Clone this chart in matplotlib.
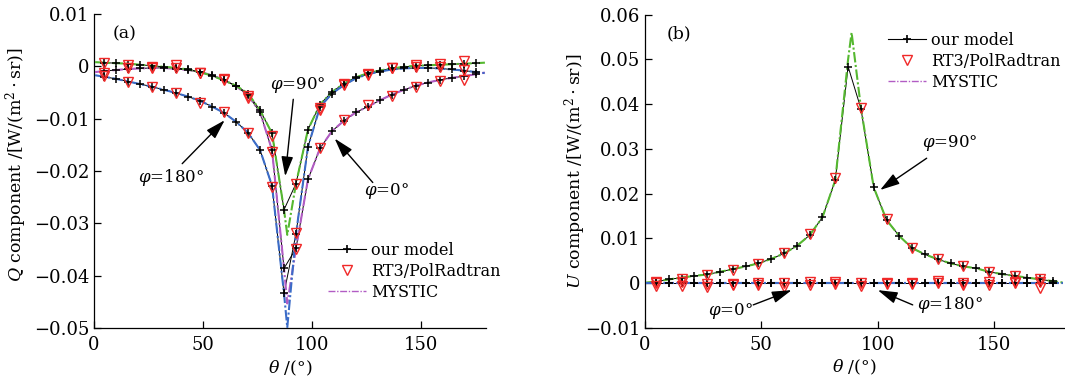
import matplotlib
matplotlib.use("Agg")
import matplotlib.pyplot as plt
from matplotlib.lines import Line2D
from matplotlib.ticker import FuncFormatter

plt.rcParams["font.family"] = ["DejaVu Serif"]
plt.rcParams["mathtext.fontset"] = "dejavuserif"

# viewing zenith grid of our model and RT3 (every other point)
theta = [4.75, 10.25, 15.75, 21.25, 26.75, 32.25, 37.75, 43.25, 48.75, 54.25,
         59.75, 65.25, 70.75, 76.25, 81.75, 87.25, 92.75, 98.25, 103.75, 109.25,
         114.75, 120.25, 125.75, 131.25, 136.75, 142.25, 147.75, 153.25, 158.75,
         164.25, 169.75, 175.25]
theta_rt3 = [4.75, 15.75, 26.75, 37.75, 48.75, 59.75, 70.75, 81.75, 92.75,
             103.75, 114.75, 125.75, 136.75, 147.75, 158.75, 169.75]
theta_mc = [0.5, 4.75, 10.25, 15.75, 21.25, 26.75, 32.25, 37.75, 43.25, 48.75,
            54.25, 59.75, 65.25, 70.75, 76.25, 81.75, 87.25, 88.75, 92.75, 98.25,
            103.75, 109.25, 114.75, 120.25, 125.75, 131.25, 136.75, 142.25,
            147.75, 153.25, 158.75, 164.25, 169.75, 175.25, 179.5]

# ---- Q component ----
q_model_0 = [-0.0009, -0.0007, -0.0005, -0.0004, -0.0003, -0.0003, -0.0005, -0.0007,
             -0.0011, -0.0017, -0.0026, -0.0038, -0.0055, -0.0088, -0.0160, -0.0386,
             -0.0348, -0.0216, -0.0157, -0.0124, -0.0104, -0.0088, -0.0077, -0.0065,
             -0.0054, -0.0045, -0.0037, -0.0031, -0.0026, -0.0022, -0.0019, -0.0015]
q_model_90 = [0.0007, 0.0006, 0.0005, 0.0003, 0.0001, -0.0001, -0.0003, -0.0006,
              -0.0011, -0.0018, -0.0027, -0.0037, -0.0052, -0.0084, -0.0128, -0.0274,
              -0.0224, -0.0121, -0.0073, -0.0049, -0.0033, -0.0021, -0.0013, -0.0008,
              -0.0004, -0.0001, 0.0001, 0.0002, 0.0003, 0.0004, 0.0005, 0.0006]
q_model_180 = [-0.0020, -0.0024, -0.0029, -0.0034, -0.0039, -0.0045, -0.0051, -0.0058,
               -0.0066, -0.0077, -0.0089, -0.0106, -0.0127, -0.0160, -0.0228, -0.0434,
               -0.0320, -0.0154, -0.0078, -0.0052, -0.0036, -0.0023, -0.0015, -0.0010,
               -0.0006, -0.0004, -0.0003, -0.0003, -0.0004, -0.0006, -0.0008, -0.0011]

q_rt3_0 = [-0.0012, -0.0003, -0.0004, -0.0004, -0.0013, -0.0027, -0.0057, -0.0163,
           -0.0349, -0.0157, -0.0102, -0.0074, -0.0056, -0.0040, -0.0028, -0.0027]
q_rt3_90 = [0.0006, 0.0002, -0.0002, 0.0003, -0.0013, -0.0025, -0.0061, -0.0134,
            -0.0224, -0.0083, -0.0036, -0.0015, -0.0003, 0.0002, 0.0004, 0.0010]
q_rt3_180 = [-0.0018, -0.0029, -0.0039, -0.0050, -0.0070, -0.0087, -0.0127, -0.0230,
             -0.0319, -0.0080, -0.0033, -0.0017, -0.0004, -0.0001, -0.0002, -0.0007]

q_mc_0 = [-0.0011, -0.0009, -0.0007, -0.0005, -0.0004, -0.0003, -0.0003, -0.0005,
          -0.0007, -0.0011, -0.0017, -0.0026, -0.0038, -0.0055, -0.0088, -0.0160,
          -0.0386, -0.0453, -0.0348, -0.0216, -0.0157, -0.0124, -0.0104, -0.0088,
          -0.0077, -0.0065, -0.0054, -0.0045, -0.0037, -0.0031, -0.0026, -0.0022,
          -0.0019, -0.0015, -0.0012]
q_mc_90 = [0.0008, 0.0007, 0.0006, 0.0005, 0.0003, 0.0001, -0.0001, -0.0003,
           -0.0006, -0.0011, -0.0018, -0.0027, -0.0037, -0.0052, -0.0084, -0.0128,
           -0.0274, -0.0322, -0.0224, -0.0121, -0.0073, -0.0049, -0.0033, -0.0021,
           -0.0013, -0.0008, -0.0004, -0.0001, 0.0001, 0.0002, 0.0003, 0.0004,
           0.0005, 0.0006, 0.0007]
q_mc_180 = [-0.0017, -0.0020, -0.0024, -0.0029, -0.0034, -0.0039, -0.0045, -0.0051,
            -0.0058, -0.0066, -0.0077, -0.0089, -0.0106, -0.0127, -0.0160, -0.0228,
            -0.0434, -0.0499, -0.0320, -0.0154, -0.0078, -0.0052, -0.0036, -0.0023,
            -0.0015, -0.0010, -0.0006, -0.0004, -0.0003, -0.0003, -0.0004, -0.0006,
            -0.0008, -0.0011, -0.0013]

# ---- U component ----
u_model_0 = [0.0000, 0.0000, 0.0000, 0.0000, 0.0000, 0.0000, 0.0000, 0.0000,
             0.0000, 0.0000, 0.0000, 0.0000, 0.0000, 0.0000, 0.0000, 0.0000,
             0.0000, 0.0000, 0.0000, 0.0000, 0.0000, 0.0000, 0.0000, 0.0000,
             0.0000, 0.0000, 0.0000, 0.0000, 0.0000, 0.0000, 0.0000, 0.0000]
u_model_90 = [0.0003, 0.0008, 0.0012, 0.0016, 0.0019, 0.0025, 0.0031, 0.0037,
              0.0044, 0.0054, 0.0066, 0.0083, 0.0107, 0.0147, 0.0230, 0.0484,
              0.0390, 0.0214, 0.0141, 0.0105, 0.0078, 0.0064, 0.0053, 0.0044,
              0.0037, 0.0033, 0.0025, 0.0020, 0.0016, 0.0012, 0.0008, 0.0004]
u_model_180 = [0.0000, 0.0000, 0.0000, 0.0000, 0.0000, 0.0000, 0.0000, 0.0000,
               0.0000, 0.0000, 0.0000, 0.0000, 0.0000, 0.0000, 0.0000, 0.0000,
               0.0000, 0.0000, 0.0000, 0.0000, 0.0000, 0.0000, 0.0000, 0.0000,
               0.0000, 0.0000, 0.0000, 0.0000, 0.0000, 0.0000, 0.0000, 0.0000]

u_rt3_0 = [-0.0007, 0.0002, -0.0003, -0.0005, 0.0000, -0.0008, 0.0003, -0.0002,
           0.0000, -0.0003, 0.0001, 0.0000, -0.0004, 0.0002, 0.0000, -0.0012]
u_rt3_90 = [0.0002, 0.0010, 0.0018, 0.0029, 0.0043, 0.0068, 0.0110, 0.0235,
            0.0392, 0.0143, 0.0078, 0.0053, 0.0037, 0.0024, 0.0015, 0.0008]
u_rt3_180 = [0.0000, -0.0006, -0.0008, -0.0002, -0.0004, 0.0001, -0.0005, 0.0002,
             -0.0006, 0.0000, -0.0003, 0.0004, 0.0000, -0.0005, 0.0002, 0.0003]

u_mc_0 = [0.0000, 0.0000, 0.0000, 0.0000, 0.0000, 0.0000, 0.0000, 0.0000,
          0.0000, 0.0000, 0.0000, 0.0000, 0.0000, 0.0000, 0.0000, 0.0000,
          0.0000, 0.0000, 0.0000, 0.0000, 0.0000, 0.0000, 0.0000, 0.0000,
          0.0000, 0.0000, 0.0000, 0.0000, 0.0000, 0.0000, 0.0000, 0.0000,
          0.0000, 0.0000, 0.0000]
u_mc_90 = [0.0001, 0.0003, 0.0008, 0.0012, 0.0016, 0.0019, 0.0025, 0.0031,
           0.0037, 0.0044, 0.0054, 0.0066, 0.0083, 0.0107, 0.0147, 0.0230,
           0.0500, 0.0560, 0.0392, 0.0214, 0.0141, 0.0105, 0.0078, 0.0064,
           0.0053, 0.0044, 0.0037, 0.0033, 0.0025, 0.0020, 0.0016, 0.0012,
           0.0008, 0.0004, 0.0001]
u_mc_180 = u_mc_0

C_PHI = {0: "#b25cc4", 90: "#55b830", 180: "#3b6cc8"}
RED = "#f02828"
MC_LS = (0, (5, 1.2, 1, 1.2))


def draw_panel(ax, model, rt3, mc):
    for phi in (0, 90, 180):
        ax.plot(theta, model[phi], "-", color="k", lw=0.7, zorder=2)
    for phi in (0, 90, 180):
        ax.plot(theta_mc, mc[phi], linestyle=MC_LS, color=C_PHI[phi], lw=1.5, zorder=3)
    for phi in (0, 90, 180):
        ax.plot(theta, model[phi], "+", color="k", ms=5.5, mew=1.1, zorder=4)
        ax.plot(theta_rt3, rt3[phi], "v", mfc="none", mec=RED, ms=7.5, mew=1.0, zorder=5)


def style_axes(ax, ylim, yticks):
    ax.set_xlim(0, 180)
    ax.set_ylim(*ylim)
    ax.set_xticks([0, 50, 100, 150])
    ax.set_yticks(yticks)
    ax.yaxis.set_major_formatter(FuncFormatter(
        lambda v, p: "0" if abs(v) < 1e-12 else f"{v:g}".replace("-", "\u2212")))
    ax.spines["top"].set_visible(False)
    ax.spines["right"].set_visible(False)
    ax.tick_params(direction="in", length=5, width=0.9, labelsize=13)
    ax.tick_params(axis="x", pad=6)
    for s in ("left", "bottom"):
        ax.spines[s].set_linewidth(0.9)
    ax.set_xlabel(r"$\theta$ /(°)", fontsize=12.5, labelpad=3)


def arrow(ax, tail, tip):
    ax.annotate("", xy=tip, xytext=tail,
                arrowprops=dict(arrowstyle="-|>,head_length=1.0,head_width=0.3",
                                color="k", lw=1.0, mutation_scale=12,
                                shrinkA=0, shrinkB=0), zorder=6)


def legend(ax, anchor):
    handles = [
        Line2D([], [], color="k", lw=0.8, marker="+", ms=6, mew=1.2),
        Line2D([], [], ls="none", marker="v", mfc="none", mec=RED, ms=7.5),
        Line2D([], [], color=C_PHI[0], lw=1.0, linestyle=MC_LS),
    ]
    ax.legend(handles, ["our model", "RT3/PolRadtran", "MYSTIC"], loc="upper left",
              bbox_to_anchor=anchor, frameon=False, fontsize=11.5, borderpad=0,
              borderaxespad=0, handlelength=2.4, handletextpad=0.3, labelspacing=0.25)


fig = plt.figure(figsize=(10.65, 3.83), dpi=100)
ax1 = fig.add_axes([94 / 1065, 1 - 328 / 383, 392 / 1065, 314 / 383])
ax2 = fig.add_axes([645 / 1065, 1 - 327.7 / 383, 419 / 1065, 313 / 383])

draw_panel(ax1, {0: q_model_0, 90: q_model_90, 180: q_model_180},
           {0: q_rt3_0, 90: q_rt3_90, 180: q_rt3_180},
           {0: q_mc_0, 90: q_mc_90, 180: q_mc_180})
style_axes(ax1, (-0.05, 0.01), [-0.05, -0.04, -0.03, -0.02, -0.01, 0, 0.01])
ax1.set_ylabel(r"$Q$ component /[W/(m$^2\cdot$sr)]", fontsize=12.5)
ax1.yaxis.set_label_coords(-0.165, 0.52)
ax1.text(8.5, 0.0062, "(a)", fontsize=12.5, va="center")
ax1.text(81, -0.0035, r"$\varphi$=90°", fontsize=12, va="center")
arrow(ax1, (91.5, -0.0063), (87.8, -0.021))
ax1.text(20, -0.0213, r"$\varphi$=180°", fontsize=12, va="center")
arrow(ax1, (40.5, -0.0186), (60, -0.0103))
ax1.text(124, -0.0238, r"$\varphi$=0°", fontsize=12, va="center")
arrow(ax1, (128, -0.0222), (110.5, -0.0138))
legend(ax1, (0.597, 0.275))

draw_panel(ax2, {0: u_model_0, 90: u_model_90, 180: u_model_180},
           {0: u_rt3_0, 90: u_rt3_90, 180: u_rt3_180},
           {0: u_mc_0, 90: u_mc_90, 180: u_mc_180})
style_axes(ax2, (-0.01, 0.06), [-0.01, 0, 0.01, 0.02, 0.03, 0.04, 0.05, 0.06])
ax2.set_ylabel(r"$U$ component /[W/(m$^2\cdot$sr)]", fontsize=12.5)
ax2.yaxis.set_label_coords(-0.135, 0.5)
ax2.text(9.4, 0.0556, "(b)", fontsize=12.5, va="center")
ax2.text(119, 0.0312, r"$\varphi$=90°", fontsize=12, va="center")
arrow(ax2, (121, 0.0279), (101, 0.0208))
ax2.text(27, -0.0063, r"$\varphi$=0°", fontsize=12, va="center")
arrow(ax2, (46.5, -0.0049), (63, -0.0016))
ax2.text(117, -0.0049, r"$\varphi$=180°", fontsize=12, va="center")
arrow(ax2, (115, -0.0049), (100, -0.0016))
legend(ax2, (0.58, 0.945))

fig.savefig("out.png", dpi=100)
